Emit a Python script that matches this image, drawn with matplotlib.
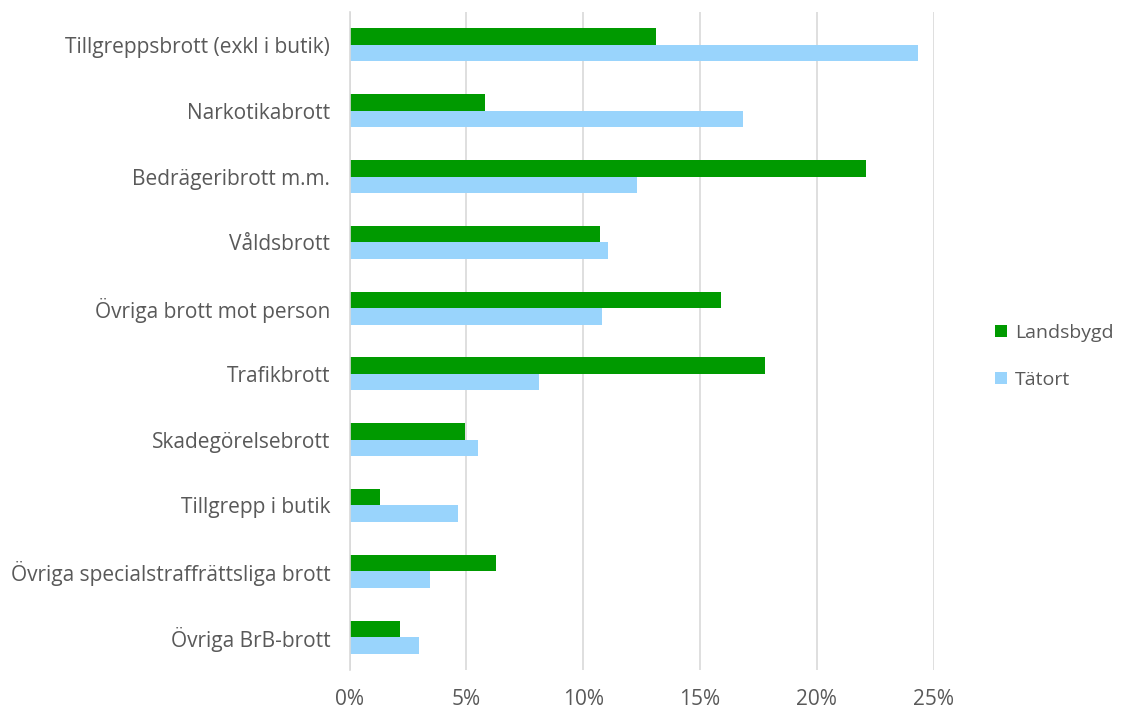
import matplotlib
matplotlib.use('Agg')
import matplotlib.pyplot as plt
import numpy as np

plt.rcParams['font.family'] = ['Open Sans', 'DejaVu Sans']

# data (andel av brott, %)
categories = [
    'Tillgreppsbrott (exkl i butik)',
    'Narkotikabrott',
    'Bedrägeribrott m.m.',
    'Våldsbrott',
    'Övriga brott mot person',
    'Trafikbrott',
    'Skadegörelsebrott',
    'Tillgrepp i butik',
    'Övriga specialstraffrättsliga brott',
    'Övriga BrB-brott',
]
landsbygd = [13.1, 5.8, 22.1, 10.7, 15.9, 17.8, 4.95, 1.3, 6.25, 2.15]
tatort = [24.35, 16.85, 12.3, 11.05, 10.8, 8.1, 5.5, 4.65, 3.45, 2.95]
xticks = [0, 5, 10, 15, 20, 25]

GREEN = '#009A00'
BLUE = '#99D4FC'
TEXT = '#595959'
GRID = '#D9D9D9'

fig = plt.figure(figsize=(11.22, 7.11), dpi=100)
ax = fig.add_axes([0.3116, 0.0577, 0.5205, 0.9254])

y = np.arange(len(categories))
h = 0.25
ax.barh(y - h / 2, landsbygd, height=h, color=GREEN, label='Landsbygd')
ax.barh(y + h / 2, tatort, height=h, color=BLUE, label='Tätort')

ax.set_ylim(len(categories) - 0.5, -0.5)
ax.set_xlim(0, 25)
ax.set_yticks(y)
ax.set_yticklabels(categories, fontsize=15, color=TEXT)
ax.set_xticks(xticks)
ax.set_xticklabels([f'{t}%' for t in xticks], fontsize=15, color=TEXT)
ax.tick_params(axis='y', length=0, pad=14)
ax.tick_params(axis='x', length=0, pad=14)

ax.grid(True, axis='x', color=GRID, linewidth=1.2)
ax.set_axisbelow(True)
for s in ['top', 'right', 'bottom']:
    ax.spines[s].set_visible(False)
ax.spines['left'].set_color(GRID)
ax.spines['left'].set_linewidth(1.2)

leg = fig.legend(loc='center left', bbox_to_anchor=(0.887, 0.499), frameon=False,
                 fontsize=14, handlelength=0.6, handleheight=0.6, handletextpad=0.4,
                 labelspacing=1.5, borderpad=0, borderaxespad=0)
for t in leg.get_texts():
    t.set_color(TEXT)

fig.savefig('out.png', dpi=100)
